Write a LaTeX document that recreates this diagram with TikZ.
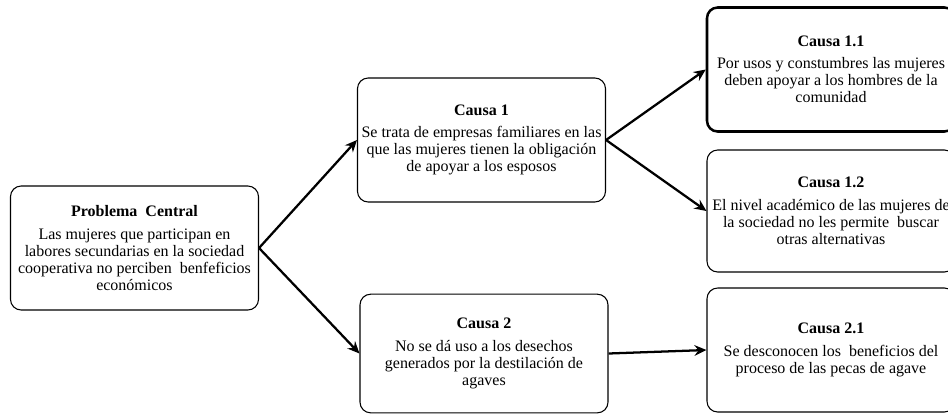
\documentclass[tikz,border=0pt]{standalone}
\usepackage{fontspec}
\setmainfont{Liberation Serif}
\usepackage{tikz}
\usetikzlibrary{arrows.meta}

\begin{document}
\begin{tikzpicture}[->,>={Stealth[length=9pt,width=8pt,inset=3pt]},x=0.75pt,y=-0.75pt]
    \tikzstyle{box}=[draw=black, line width=0.8pt, rounded corners=8pt, align=center, minimum width=186pt, minimum height=93pt, inner sep=0pt, font=\fontsize{12}{12.8}\selectfont, text=black]
    \tikzstyle{thickbox}=[box, line width=1.9pt]
    \tikzstyle{link}=[line width=1.7pt]

    \useasboundingbox (0,0) rectangle (948,415);

    \node[box] (prob) at (134.5,248) {\textbf{Problema\ \ Central}\\[4pt] Las mujeres que participan en\\ labores secundarias en la sociedad\\ cooperativa no perciben\ \ benfeficios\\ económicos};
    \node[box] (c1)   at (481.5,140) {\textbf{Causa 1}\\[4pt] Se trata de empresas familiares en las\\ que las mujeres tienen la obligación\\ de apoyar a los esposos};
    \node[box, minimum height=89pt] (c2) at (484,353.5) {\textbf{Causa 2}\\[4pt] No se dá uso a los desechos\\ generados por la destilación de\\ agaves};
    \node[thickbox] (c11) at (831,69.5) {\textbf{Causa 1.1}\\[4pt] Por usos y constumbres las mujeres\\ deben apoyar a los hombres de la\\ comunidad};
    \node[box, minimum height=91.5pt] (c12) at (831,211) {\textbf{Causa 1.2}\\[4pt] El nivel académico de las mujeres de\\ la sociedad no les permite\ \ buscar\\ otras alternativas};
    \node[box] (c21)  at (831,350)   {\textbf{Causa 2.1}\\[4pt] Se desconocen los\ \ beneficios del\\ proceso de las pecas de agave};
    \path
     (prob.east) edge[link] (c1.west)
     (prob.east) edge[link] (c2.west)
     (c1.east)   edge[link] (c11.west)
     (c1.east)   edge[link] (c12.west)
     (c2.east)   edge[link] (c21.west)
     ;
\end{tikzpicture}
\end{document}
